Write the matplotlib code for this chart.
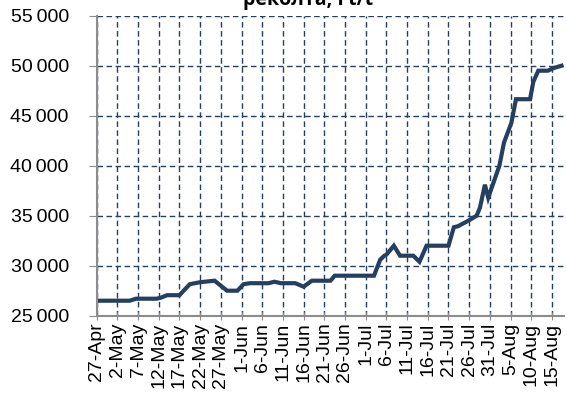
import matplotlib
matplotlib.use("Agg")
import matplotlib.pyplot as plt
from matplotlib.ticker import FuncFormatter

# days counted from 27-Apr, price in Ft/t
days = [0, 8, 9.5, 14.5, 15.5, 17, 20, 22.5, 25, 28.5, 31.5, 34, 35.5, 37,
        41.5, 43, 44.5, 48, 50, 52, 56.5, 57.5, 67, 68.5, 69.5, 70, 71.8,
        73.3, 76.5, 78, 79.7, 85, 86.3, 87.3, 89.8, 91.8, 92.6, 93.8, 94.6,
        97.3, 98.4, 100.2, 101.3, 104.7, 105.5, 106.7, 109, 110.3, 112.3]
price = [26500, 26500, 26700, 26700, 26800, 27050, 27050, 28150, 28350, 28500,
         27500, 27500, 28150, 28250, 28250, 28400, 28250, 28250, 27900, 28500,
         28500, 29000, 29000, 30600, 31000, 31100, 32000, 31000, 31000, 30400,
         32000, 32000, 33850, 33950, 34500, 35000, 35800, 38100, 36800, 40000,
         42300, 44300, 46650, 46650, 48400, 49500, 49500, 49750, 50000]

tick_days = list(range(0, 111, 5))
tick_labels = ["27-Apr", "2-May", "7-May", "12-May", "17-May", "22-May",
               "27-May", "1-Jun", "6-Jun", "11-Jun", "16-Jun", "21-Jun",
               "26-Jun", "1-Jul", "6-Jul", "11-Jul", "16-Jul", "21-Jul",
               "26-Jul", "31-Jul", "5-Aug", "10-Aug", "15-Aug"]
y_ticks = [25000, 30000, 35000, 40000, 45000, 50000, 55000]

navy = "#243F60"
grey = "#8C8C8C"

plt.rcParams["font.family"] = ["Liberation Sans", "DejaVu Sans"]

fig = plt.figure(figsize=(5.67, 4.08), dpi=100)
ax = fig.add_axes([0.1704, 0.2262, 0.8250, 0.7353])

ax.plot(days, price, color=navy, lw=3.0, solid_joinstyle="miter")

ax.set_xlim(0, 113)
ax.set_ylim(25000, 55000)
ax.set_xticks(tick_days)
ax.set_xticklabels(tick_labels, rotation=90, fontsize=14)
ax.set_yticks(y_ticks)
ax.yaxis.set_major_formatter(FuncFormatter(lambda v, p: f"{int(v):,}".replace(",", "\u2009")))
ax.tick_params(axis="y", labelsize=14, color=grey, length=6, direction="out", pad=14)
ax.tick_params(axis="x", color=grey, length=6, direction="inout", pad=2)

ax.grid(True, color=navy, ls=(0, (4, 2.5)), lw=1.0)
ax.set_axisbelow(True)
for s in ["top", "right"]:
    ax.spines[s].set_visible(False)
for s in ["left", "bottom"]:
    ax.spines[s].set_color(grey)
    ax.spines[s].set_linewidth(1.5)

fig.text(308 / 567, 1 - 5 / 408, "реколта, Ft/t", ha="center", va="baseline",
         fontsize=14, fontweight="bold", family=["Open Sans", "DejaVu Sans"])

fig.savefig("out.png", dpi=100)
